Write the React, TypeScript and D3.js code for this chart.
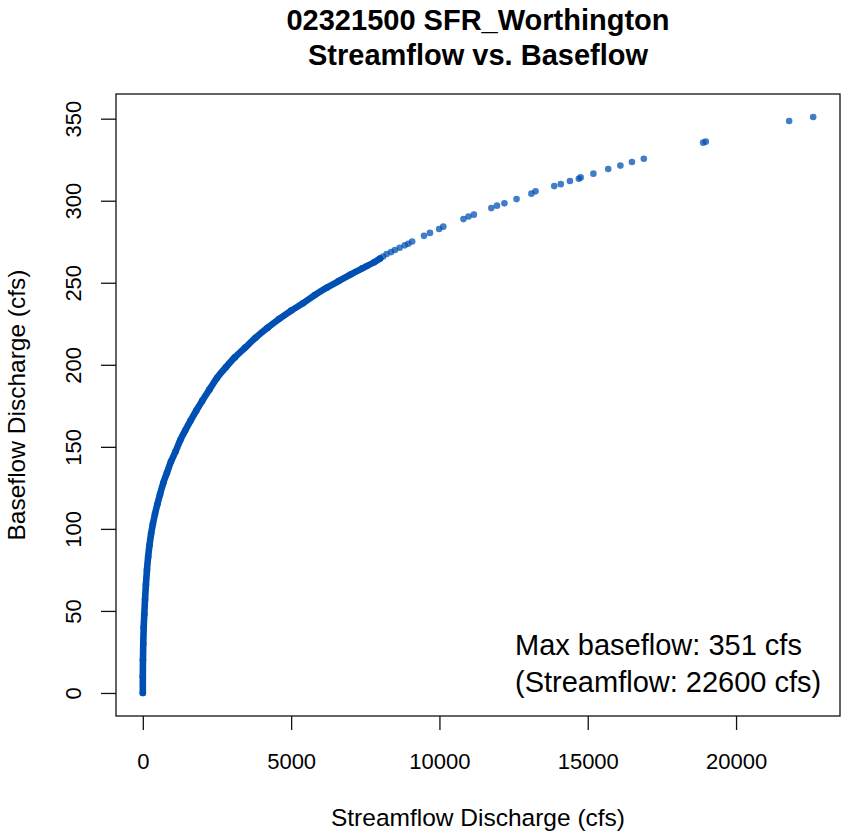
import React, { useEffect, useRef } from "react";
import * as d3 from "d3";

// dense part of the cloud (points read along the band)
const denseFlow = [
  0, 0, 5, 15, 30, 50, 75, 105, 140, 180, 225, 280, 340, 410, 490, 580, 690,
  810, 950, 1100, 1260, 1430, 1610, 1800, 2000, 2250, 2500, 2800, 3100, 3450,
  3800, 4200, 4600, 5000, 5400, 5800, 6200, 6600, 7000, 7400, 7800, 8000,
];
const denseBase = [
  0, 10, 20, 30, 40, 48, 57, 66, 75, 83, 90, 97, 103, 109, 115, 121, 128, 134,
  141, 147, 154, 160, 166, 172, 178, 185, 192, 198.5, 204.5, 210.5, 216.5,
  222.5, 228, 233, 237.5, 242.5, 247, 251, 255, 258.8, 262.5, 264.8,
];

// single points in the upper tail
const sparseFlow = [
  8100, 8220, 8370, 8500, 8660, 8830, 8950, 9080, 9480, 9680, 9990, 10130,
  10810, 10980, 11160, 11750, 11940, 12190, 12600, 13100, 13240, 13870, 14090,
  14400, 14700, 14760, 15190, 15690, 16100, 16490, 16890, 18890, 18980, 21790,
  22600,
];
const sparseBase = [
  266, 267.5, 268.7, 270, 271.3, 272.8, 273.8, 275.1, 278.6, 280.4, 282.8,
  284.2, 288.8, 290.4, 291.5, 295.5, 297, 298.4, 301, 304.3, 305.7, 308.9,
  310.1, 312, 313.4, 314.2, 316.5, 319.3, 321.4, 323.6, 325.6, 335.4, 336,
  348.6, 351,
];

const xTicks = [0, 5000, 10000, 15000, 20000];
const yTicks = [0, 50, 100, 150, 200, 250, 300, 350];

const titleLines = ["02321500 SFR_Worthington", "Streamflow vs. Baseflow"];
const noteLines = ["Max baseflow: 351 cfs", "(Streamflow: 22600 cfs)"];

const FONT = "'Liberation Sans', Arial, sans-serif";

function ScatterChart() {
  const ref = useRef<SVGSVGElement | null>(null);

  useEffect(() => {
    document.body.style.margin = "0";
    const svg = d3.select(ref.current);
    svg.selectAll("*").remove();

    const left = 116,
      right = 840,
      top = 94,
      bottom = 716;

    // R style 4% padding around the data range
    const xMax = d3.max(sparseFlow) as number;
    const yMax = d3.max(sparseBase) as number;
    const x = d3
      .scaleLinear()
      .domain([-0.04 * xMax, xMax * 1.04])
      .range([left, right]);
    const y = d3
      .scaleLinear()
      .domain([-0.04 * yMax, yMax * 1.04])
      .range([bottom, top]);

    const color = "#0050b4";

    // dense band
    const dense = denseFlow.map((f, i) => [f, denseBase[i]] as [number, number]);
    const line = d3
      .line<[number, number]>()
      .x((d) => x(d[0]))
      .y((d) => y(d[1]))
      .curve(d3.curveCatmullRom);

    svg
      .append("path")
      .datum(dense)
      .attr("d", line)
      .attr("fill", "none")
      .attr("stroke", color)
      .attr("stroke-width", 6.6)
      .attr("stroke-linecap", "round")
      .attr("stroke-linejoin", "round");

    svg
      .append("g")
      .selectAll("circle")
      .data(dense)
      .join("circle")
      .attr("cx", (d) => x(d[0]))
      .attr("cy", (d) => y(d[1]))
      .attr("r", 3.3)
      .attr("fill", color);

    // tail points
    svg
      .append("g")
      .selectAll("circle")
      .data(sparseFlow.map((f, i) => [f, sparseBase[i]]))
      .join("circle")
      .attr("cx", (d) => x(d[0]))
      .attr("cy", (d) => y(d[1]))
      .attr("r", 3.3)
      .attr("fill", color)
      .attr("fill-opacity", 0.74);

    // box
    svg
      .append("rect")
      .attr("x", left)
      .attr("y", top)
      .attr("width", right - left)
      .attr("height", bottom - top)
      .attr("fill", "none")
      .attr("stroke", "#111")
      .attr("stroke-width", 1.3);

    // x axis
    const gx = svg
      .append("g")
      .attr("transform", `translate(0,${bottom})`)
      .call(
        d3
          .axisBottom(x)
          .tickValues(xTicks)
          .tickSize(14)
          .tickPadding(23)
          .tickFormat((d) => String(d))
      );
    gx.select(".domain").remove();
    gx.selectAll(".tick line").attr("stroke", "#111").attr("stroke-width", 1.3);
    gx.selectAll(".tick text")
      .attr("font-family", FONT)
      .attr("font-size", 22)
      .attr("fill", "#000");

    // y axis, labels turned like R's default
    const gy = svg
      .append("g")
      .attr("transform", `translate(${left},0)`)
      .call(d3.axisLeft(y).tickValues(yTicks).tickSize(15));
    gy.select(".domain").remove();
    gy.selectAll(".tick line").attr("stroke", "#111").attr("stroke-width", 1.3);
    gy.selectAll(".tick text")
      .attr("transform", "rotate(-90)")
      .attr("x", 0)
      .attr("y", -35)
      .attr("dy", 0)
      .attr("text-anchor", "middle")
      .attr("font-family", FONT)
      .attr("font-size", 22)
      .attr("fill", "#000");

    // titles
    const cx = (left + right) / 2;
    svg
      .append("g")
      .selectAll("text")
      .data(titleLines)
      .join("text")
      .attr("x", cx)
      .attr("y", (_, i) => 29.5 + i * 35.7)
      .attr("text-anchor", "middle")
      .attr("font-family", FONT)
      .attr("font-weight", "bold")
      .attr("font-size", 29)
      .text((d) => d);

    svg
      .append("text")
      .attr("x", cx)
      .attr("y", 826)
      .attr("text-anchor", "middle")
      .attr("font-family", FONT)
      .attr("font-size", 24.5)
      .text("Streamflow Discharge (cfs)");

    svg
      .append("text")
      .attr("transform", `translate(25,${(top + bottom) / 2}) rotate(-90)`)
      .attr("text-anchor", "middle")
      .attr("font-family", FONT)
      .attr("font-size", 24.5)
      .text("Baseflow Discharge (cfs)");

    // note in the lower right
    svg
      .append("g")
      .selectAll("text")
      .data(noteLines)
      .join("text")
      .attr("x", 515)
      .attr("y", (_, i) => 655 + i * 36.5)
      .attr("font-family", FONT)
      .attr("font-size", 29)
      .text((d) => d);
  }, []);

  return <svg ref={ref} width={842} height={835} style={{ display: "block", background: "#fff" }} />;
}

export default function App() {
  return <ScatterChart />;
}
